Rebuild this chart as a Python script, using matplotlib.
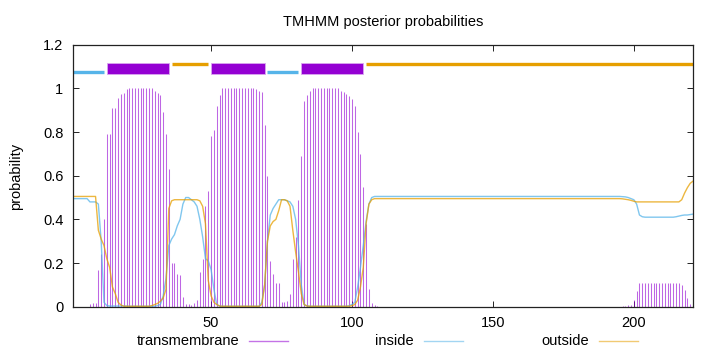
import matplotlib
matplotlib.use("Agg")
import matplotlib.pyplot as plt
from matplotlib.lines import Line2D
import numpy as np

plt.rcParams["font.family"] = ["Liberation Sans", "DejaVu Sans"]

# per-residue posterior probabilities, residues 1..221
residue = np.arange(1, 222)
tm = [
    0, 0, 0, 0, 0, 0, 0.012, 0.015, 0.016, 0.17,
    0.24, 0.40, 0.79, 0.79, 0.91, 0.91, 0.955, 0.975, 0.98, 0.995,
    1.0, 1.0, 1.0, 1.0, 1.0, 1.0, 1.0, 1.0, 1.0, 0.99,
    0.98, 0.97, 0.89, 0.79, 0.63, 0.20, 0.20, 0.15, 0.145, 0.045,
    0.012, 0.012, 0.01, 0.015, 0.03, 0.16, 0.22, 0.46, 0.53, 0.78,
    0.81, 0.92, 0.97, 1.0, 1.0, 1.0, 1.0, 1.0, 1.0, 1.0,
    1.0, 1.0, 1.0, 1.0, 1.0, 0.995, 0.99, 0.985, 0.83, 0.60,
    0.21, 0.15, 0.11, 0.11, 0.02, 0.02, 0.025, 0.06, 0.22, 0.32,
    0.49, 0.69, 0.94, 0.97, 0.99, 1.0, 1.0, 1.0, 1.0, 1.0,
    1.0, 1.0, 1.0, 1.0, 1.0, 0.99, 0.985, 0.975, 0.965, 0.95,
    0.92, 0.80, 0.70, 0.55, 0.38, 0.08, 0.015, 0.01, 0.005, 0,
    0, 0, 0, 0, 0, 0, 0, 0, 0, 0,
    0, 0, 0, 0, 0, 0, 0, 0, 0, 0,
    0, 0, 0, 0, 0, 0, 0, 0, 0, 0,
    0, 0, 0, 0, 0, 0, 0, 0, 0, 0,
    0, 0, 0, 0, 0, 0, 0, 0, 0, 0,
    0, 0, 0, 0, 0, 0, 0, 0, 0, 0,
    0, 0, 0, 0, 0, 0, 0, 0, 0, 0,
    0, 0, 0, 0, 0, 0, 0, 0, 0, 0,
    0, 0, 0, 0, 0, 0.002, 0.004, 0.006, 0.01, 0.03,
    0.07, 0.107, 0.107, 0.107, 0.107, 0.107, 0.107, 0.107, 0.107, 0.107,
    0.107, 0.107, 0.107, 0.107, 0.107, 0.107, 0.10, 0.075, 0.04, 0.012,
    0.004,
]
inside = [
    0.495, 0.495, 0.495, 0.495, 0.495, 0.495, 0.48, 0.48, 0.48, 0.47,
    0.30, 0.02, 0.005, 0.003, 0.003, 0.003, 0.003, 0.003, 0.003, 0.003,
    0.002, 0.002, 0.002, 0.002, 0.002, 0.002, 0.002, 0.002, 0.002, 0.002,
    0.005, 0.01, 0.05, 0.13, 0.28, 0.31, 0.33, 0.37, 0.40, 0.47,
    0.50, 0.50, 0.49, 0.48, 0.46, 0.40, 0.32, 0.22, 0.21, 0.17,
    0.08, 0.01, 0.003, 0.002, 0.002, 0.002, 0.002, 0.002, 0.002, 0.002,
    0.002, 0.002, 0.002, 0.002, 0.002, 0.002, 0.002, 0.02, 0.10, 0.30,
    0.42, 0.45, 0.47, 0.49, 0.49, 0.49, 0.485, 0.48, 0.46, 0.40,
    0.28, 0.10, 0.01, 0.004, 0.002, 0.002, 0.002, 0.002, 0.002, 0.002,
    0.002, 0.002, 0.002, 0.002, 0.002, 0.002, 0.002, 0.002, 0.005, 0.01,
    0.02, 0.09, 0.18, 0.28, 0.39, 0.47, 0.50, 0.505, 0.505, 0.505,
    0.505, 0.505, 0.505, 0.505, 0.505, 0.505, 0.505, 0.505, 0.505, 0.505,
    0.505, 0.505, 0.505, 0.505, 0.505, 0.505, 0.505, 0.505, 0.505, 0.505,
    0.505, 0.505, 0.505, 0.505, 0.505, 0.505, 0.505, 0.505, 0.505, 0.505,
    0.505, 0.505, 0.505, 0.505, 0.505, 0.505, 0.505, 0.505, 0.505, 0.505,
    0.505, 0.505, 0.505, 0.505, 0.505, 0.505, 0.505, 0.505, 0.505, 0.505,
    0.505, 0.505, 0.505, 0.505, 0.505, 0.505, 0.505, 0.505, 0.505, 0.505,
    0.505, 0.505, 0.505, 0.505, 0.505, 0.505, 0.505, 0.505, 0.505, 0.505,
    0.505, 0.505, 0.505, 0.505, 0.505, 0.505, 0.505, 0.505, 0.505, 0.505,
    0.505, 0.505, 0.505, 0.505, 0.505, 0.504, 0.503, 0.50, 0.495, 0.49,
    0.47, 0.42, 0.412, 0.41, 0.41, 0.41, 0.41, 0.41, 0.41, 0.41,
    0.41, 0.41, 0.41, 0.41, 0.412, 0.415, 0.418, 0.42, 0.42, 0.422,
    0.424,
]
outside = [
    0.505, 0.505, 0.505, 0.505, 0.505, 0.505, 0.505, 0.505, 0.505, 0.35,
    0.31, 0.28, 0.22, 0.18, 0.09, 0.06, 0.02, 0.008, 0.002, 0.002,
    0.002, 0.002, 0.002, 0.002, 0.002, 0.002, 0.002, 0.002, 0.005, 0.01,
    0.015, 0.025, 0.04, 0.08, 0.45, 0.485, 0.49, 0.49, 0.49, 0.49,
    0.49, 0.49, 0.49, 0.49, 0.49, 0.485, 0.46, 0.38, 0.12, 0.05,
    0.02, 0.01, 0.003, 0.002, 0.002, 0.002, 0.002, 0.002, 0.002, 0.002,
    0.002, 0.002, 0.002, 0.002, 0.002, 0.002, 0.002, 0.01, 0.10, 0.30,
    0.37, 0.39, 0.40, 0.44, 0.49, 0.49, 0.485, 0.46, 0.35, 0.25,
    0.16, 0.06, 0.01, 0.003, 0.002, 0.002, 0.002, 0.002, 0.002, 0.002,
    0.002, 0.002, 0.002, 0.002, 0.002, 0.002, 0.002, 0.002, 0.002, 0.005,
    0.01, 0.03, 0.09, 0.18, 0.38, 0.47, 0.49, 0.495, 0.495, 0.495,
    0.495, 0.495, 0.495, 0.495, 0.495, 0.495, 0.495, 0.495, 0.495, 0.495,
    0.495, 0.495, 0.495, 0.495, 0.495, 0.495, 0.495, 0.495, 0.495, 0.495,
    0.495, 0.495, 0.495, 0.495, 0.495, 0.495, 0.495, 0.495, 0.495, 0.495,
    0.495, 0.495, 0.495, 0.495, 0.495, 0.495, 0.495, 0.495, 0.495, 0.495,
    0.495, 0.495, 0.495, 0.495, 0.495, 0.495, 0.495, 0.495, 0.495, 0.495,
    0.495, 0.495, 0.495, 0.495, 0.495, 0.495, 0.495, 0.495, 0.495, 0.495,
    0.495, 0.495, 0.495, 0.495, 0.495, 0.495, 0.495, 0.495, 0.495, 0.495,
    0.495, 0.495, 0.495, 0.495, 0.495, 0.495, 0.495, 0.495, 0.495, 0.495,
    0.495, 0.495, 0.495, 0.495, 0.495, 0.494, 0.492, 0.49, 0.487, 0.483,
    0.48, 0.48, 0.48, 0.48, 0.48, 0.48, 0.48, 0.48, 0.48, 0.48,
    0.48, 0.48, 0.48, 0.48, 0.48, 0.48, 0.49, 0.52, 0.545, 0.565,
    0.575,
]

# predicted topology (start, end)
seg_kind = ["inside", "TM", "outside", "TM", "inside", "TM", "outside"]
seg_start = [1, 13, 36, 50, 70, 82, 105]
seg_end = [12, 35, 49, 69, 81, 104, 221]

PURPLE, BLUE, ORANGE = "#9400d3", "#56b4e9", "#e69f00"

fig = plt.figure(figsize=(7.2, 3.52), dpi=100)
ax = fig.add_axes([73 / 720, 1 - 306.7 / 352, 620 / 720, 262 / 352])

ax.vlines(residue, 0, tm, color=PURPLE, lw=0.75, alpha=0.6)
ax.plot(residue, inside, color=BLUE, lw=1.0, alpha=0.75)
ax.plot(residue, outside, color=ORANGE, lw=1.0, alpha=0.75)

for kind, s, e in zip(seg_kind, seg_start, seg_end):
    if kind == "TM":
        ax.broken_barh([(s, e - s)], (1.068, 0.046), facecolor=PURPLE,
                       edgecolor="#d9a6f0", lw=0.6)
    elif kind == "inside":
        ax.hlines(1.073, s, e, color=BLUE, lw=2.4)
    else:
        ax.hlines(1.111, s, e, color=ORANGE, lw=2.4)

ax.set_xlim(1, 221)
ax.set_ylim(0, 1.2)
ax.set_xticks([50, 100, 150, 200])
ax.set_yticks([0, 0.2, 0.4, 0.6, 0.8, 1.0, 1.2])
ax.set_yticklabels(["0", "0.2", "0.4", "0.6", "0.8", "1", "1.2"])
ax.tick_params(direction="in", top=True, right=True, length=4, width=0.6,
               labelsize=10.5, pad=7)
for sp in ax.spines.values():
    sp.set_linewidth(0.9)
    sp.set_color("#222222")

fig.text(0.532, 0.9375, "TMHMM posterior probabilities", ha="center", va="center", fontsize=10.5)
fig.text(0.022, 0.5, "probability", rotation=90, ha="center", va="center", fontsize=10.5)

# key below, gnuplot style: label then sample line
legend_items = [("transmembrane", PURPLE, 239, 249), ("inside", BLUE, 414, 424),
                ("outside", ORANGE, 589, 599)]
for label, col, tx, lx in legend_items:
    ly = 1 - 341 / 352
    fig.text(tx / 720, ly, label, ha="right", va="center", fontsize=10.5)
    fig.add_artist(Line2D([lx / 720, (lx + 39) / 720], [ly, ly], color=col,
                          lw=1.0, alpha=0.55, transform=fig.transFigure))

fig.savefig("out.png", dpi=100)
